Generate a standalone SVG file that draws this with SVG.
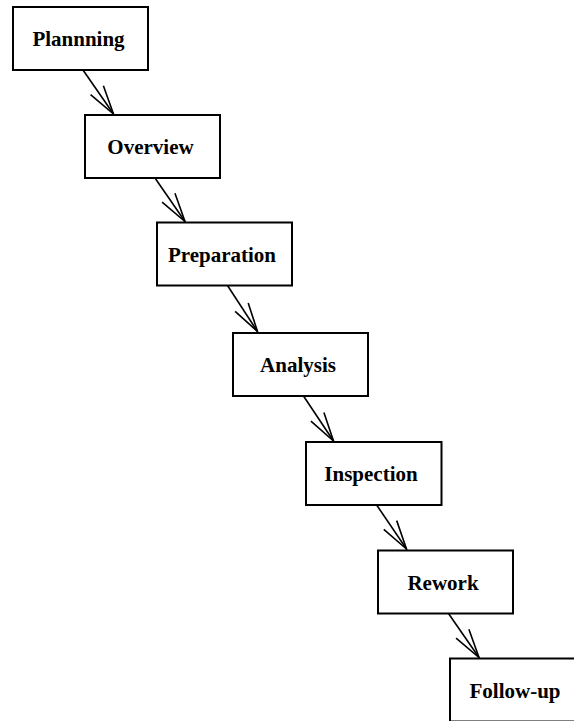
<svg xmlns="http://www.w3.org/2000/svg" width="574" height="721" viewBox="0 0 574 721">
  <style>
    .box { fill: #ffffff; stroke: #000000; stroke-width: 2; }
    .label { font-family: "Liberation Serif", "Times New Roman", serif; font-weight: bold; font-size: 21px; fill: #000000; text-anchor: middle; }
    .edge { fill: none; stroke: #000000; stroke-width: 1.6; marker-end: url(#open-v); }
  </style>
  <defs>
    <marker id="open-v" markerUnits="userSpaceOnUse" orient="auto" markerWidth="40" markerHeight="40" refX="0" refY="0" viewBox="-35 -15 40 30" overflow="visible">
      <path d="M-29,-7.8 L0,0 L-29,7.8" fill="none" stroke="#000000" stroke-width="1.6"/>
    </marker>
  </defs>
  <rect width="574" height="721" fill="#ffffff"/>

  <g id="connectors">
    <line class="edge" x1="83" y1="70" x2="113.5" y2="114"/>
    <line class="edge" x1="155" y1="178" x2="185" y2="221.5"/>
    <line class="edge" x1="227.5" y1="285.5" x2="257.5" y2="331.5"/>
    <line class="edge" x1="303.5" y1="396" x2="333.5" y2="441"/>
    <line class="edge" x1="377" y1="505.5" x2="406.5" y2="549"/>
    <line class="edge" x1="448.5" y1="613.5" x2="479" y2="657.5"/>
  </g>

  <g id="planning">
    <rect class="box" x="13" y="7" width="135" height="63"/>
    <text class="label" x="78.5" y="46">Plannning</text>
  </g>
  <g id="overview">
    <rect class="box" x="85" y="115" width="135" height="63"/>
    <text class="label" x="150.5" y="154">Overview</text>
  </g>
  <g id="preparation">
    <rect class="box" x="157" y="222.5" width="135" height="63"/>
    <text class="label" x="222" y="261.5">Preparation</text>
  </g>
  <g id="analysis">
    <rect class="box" x="233" y="333" width="135" height="63"/>
    <text class="label" x="298" y="372">Analysis</text>
  </g>
  <g id="inspection">
    <rect class="box" x="306" y="442" width="135.5" height="63"/>
    <text class="label" x="371" y="481">Inspection</text>
  </g>
  <g id="rework">
    <rect class="box" x="378" y="550.5" width="135" height="63"/>
    <text class="label" x="443" y="589.5">Rework</text>
  </g>
  <g id="follow-up">
    <rect class="box" x="450" y="658.5" width="135" height="63"/>
    <text class="label" x="515" y="697.5">Follow-up</text>
  </g>
</svg>
